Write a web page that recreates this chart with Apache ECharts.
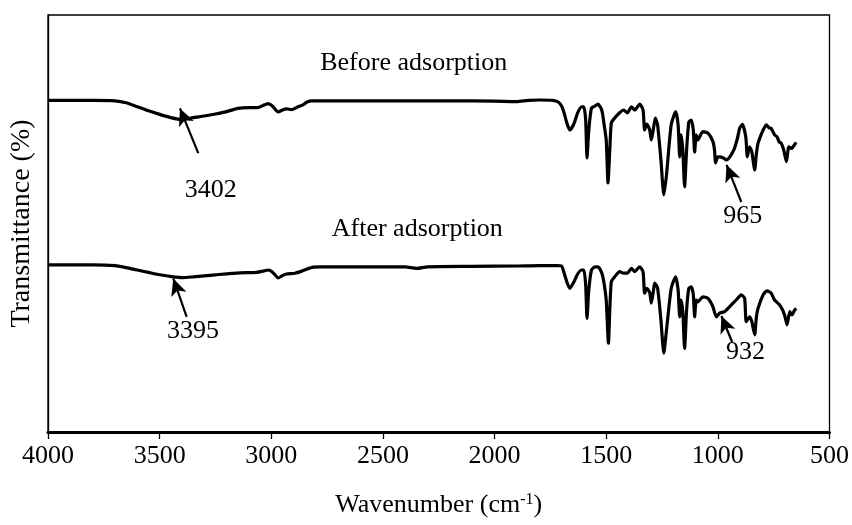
<!DOCTYPE html>
<html>
<head>
<meta charset="utf-8">
<title>FTIR spectra</title>
<script src="https://cdn.jsdelivr.net/npm/echarts@6/dist/echarts.min.js"></script>
<style>
  html, body { margin: 0; padding: 0; background: #fff; }
  #chart { width: 852px; height: 525px; }
</style>
</head>
<body>
<div id="chart"></div>
<script>
// FTIR spectrum before adsorption (wavenumber in cm-1, transmittance in %)
const beforeWn = [4000,3800,3700,3650,3600,3550,3500,3450,3400,3350,3300,3250,3200,3150,3100,3060,3030,3014,2995,2969,2950,2932,2910,2880,2858,2840,2820,2800,2600,2400,2200,2000,1900,1850,1800,1740,1715,1700,1690,1675,1663,1645,1628,1610,1600,1592,1586,1578,1566,1550,1537,1520,1511,1500,1492,1484,1477,1462,1440,1422,1405,1387,1372,1350,1335,1328,1318,1305,1298,1288,1280,1270,1255,1242,1230,1209,1189,1178,1171,1165,1157,1149,1140,1130,1119,1110,1104,1097,1090,1067,1044,1022,1015,1010,1000,992,975,962,950,935,925,912,902,890,875,868,858,848,835,828,820,805,797,783,770,761,746,735,725,716,705,693,682,670,656,649];
const beforeT = [82.9,82.9,82.8,82.3,81.3,80.3,79.4,78.6,78.1,78.6,79.0,79.5,80.1,80.9,81.1,81.1,81.8,82.1,81.5,80.0,80.5,80.8,80.6,81.3,81.8,82.5,82.8,82.8,82.8,82.8,82.8,82.7,82.6,82.9,83.0,82.9,82.5,81.5,80.0,77.0,75.5,77.0,79.8,81.3,81.3,78.0,68.5,75.5,81.0,81.5,82.0,80.5,77.5,73.0,62.3,70.5,77.3,78.5,79.8,80.5,79.8,81.3,80.5,82.0,80.5,75.5,77.0,75.5,73.0,76.0,78.5,76.8,68.0,59.3,64.3,76.8,80.1,76.8,68.8,74.3,70.5,61.3,70.5,77.5,78.0,75.5,70.0,74.3,73.0,75.1,74.7,72.6,70.5,67.3,68.8,68.8,68.5,68.0,68.5,69.8,71.0,73.5,76.0,76.9,73.8,68.8,71.3,70.1,65.5,69.3,72.2,74.5,75.5,76.8,76.0,75.9,74.3,73.8,72.5,72.2,70.5,67.6,71.3,70.9,71.9,72.4];

// FTIR spectrum after adsorption
const afterWn = [4000,3800,3700,3650,3600,3550,3500,3440,3395,3350,3250,3141,3066,3030,3014,2995,2969,2950,2932,2894,2860,2842,2812,2780,2600,2400,2350,2300,2100,1900,1800,1720,1700,1690,1675,1663,1645,1628,1610,1600,1592,1586,1578,1566,1550,1537,1520,1511,1500,1490,1484,1477,1462,1440,1422,1405,1387,1372,1350,1335,1328,1318,1305,1298,1288,1283,1270,1255,1242,1230,1209,1189,1178,1171,1165,1157,1149,1140,1130,1119,1110,1104,1097,1090,1067,1044,1022,1007,992,970,948,918,895,880,873,858,848,835,828,820,797,780,761,746,724,710,700,690,678,668,656,649];
const afterT = [41.8,41.8,41.6,41.1,40.5,39.9,39.3,38.8,38.6,38.8,39.3,39.8,39.9,40.3,40.5,40.0,38.5,39.1,39.5,39.7,40.3,40.7,41.2,41.3,41.3,41.3,40.9,41.3,41.4,41.5,41.6,41.6,41.5,40.0,37.3,35.9,37.5,39.5,40.5,40.5,36.8,28.4,35.5,40.5,41.3,41.3,39.8,37.6,33.0,22.2,30.5,37.6,38.8,40.1,39.7,39.7,40.9,40.1,41.3,40.0,34.7,35.9,34.8,32.2,35.5,37.2,36.0,28.0,19.7,25.5,35.9,38.8,35.5,28.8,33.0,30.0,20.9,30.5,35.9,36.3,34.3,28.8,33.0,32.5,33.8,33.4,31.3,28.8,29.7,30.1,31.3,33.0,34.3,33.4,27.6,28.8,27.6,24.3,28.5,30.9,34.3,35.3,34.7,33.0,31.8,30.5,29.0,26.8,30.1,29.3,30.5,30.9];

// Spectrum captions: text and its [wavenumber, transmittance] anchor
const beforeCaption = { text: 'Before adsorption', at: [2362, 92.3] };
const afterCaption = { text: 'After adsorption', at: [2346, 50.8] };

// Peak annotations: label, label position, arrow tail, arrow head
const beforePeaks = [
  { text: '3402', at: [3271, 60.5], from: [3327, 69.7], to: [3409, 80.9] },
  { text: '965',  at: [889, 54.0],  from: [895, 57.5],  to: [961, 66.8] }
];
const afterPeaks = [
  { text: '3395', at: [3351, 25.3], from: [3379, 28.8], to: [3439, 38.4] },
  { text: '932',  at: [876, 20.0],  from: [936, 22.5],  to: [984, 29.0] }
];

const FONT = '"Liberation Serif", "Times New Roman", serif';

function pairs(xs, ys) {
  return xs.map((x, i) => [x, ys[i]]);
}

function annotations(caption, peaks) {
  const texts = [caption].concat(peaks);
  return {
    markPoint: {
      symbol: 'circle',
      symbolSize: 0,
      silent: true,
      itemStyle: { color: '#000', opacity: 1 },
      label: {
        show: true,
        position: 'inside',
        color: '#000',
        opacity: 1,
        fontFamily: FONT,
        fontSize: 26,
        formatter: p => p.name
      },
      data: texts.map(p => ({ name: p.text, coord: p.at }))
    },
    markLine: {
      silent: true,
      symbol: ['none', 'arrow'],
      symbolSize: [12, 17],
      label: { show: false },
      lineStyle: { color: '#000', width: 2.2, type: 'solid', opacity: 1 },
      data: peaks.map(p => [{ coord: p.from }, { coord: p.to }])
    }
  };
}

const chart = echarts.init(document.getElementById('chart'), null, { renderer: 'canvas' });

chart.setOption({
  animation: false,
  backgroundColor: '#fff',
  grid: {
    left: 48, right: 22, top: 15, bottom: 93,
    show: true,
    borderColor: '#000',
    borderWidth: 1.3,
    backgroundColor: 'transparent'
  },
  xAxis: {
    type: 'value',
    inverse: true,
    min: 500,
    max: 4000,
    interval: 500,
    name: '{t|Wavenumber (cm}{s|-1}{t|)}',
    nameLocation: 'middle',
    nameGap: 60,
    nameTextStyle: {
      rich: {
        t: { fontFamily: FONT, fontSize: 26, color: '#000' },
        s: { fontFamily: FONT, fontSize: 16, color: '#000', verticalAlign: 'top', padding: [0, 0, 10, 0] }
      }
    },
    axisLine: { show: true, onZero: false, lineStyle: { color: '#000', width: 3 } },
    axisTick: { show: true, length: 7, lineStyle: { color: '#000', width: 1.3 } },
    axisLabel: {
      color: '#000', fontFamily: FONT, fontSize: 26, margin: 11,
      formatter: v => String(v)
    },
    splitLine: { show: false }
  },
  yAxis: {
    type: 'value',
    min: 0,
    max: 104.25,
    name: 'Transmittance (%)',
    nameLocation: 'middle',
    nameGap: 12,
    nameTextStyle: { color: '#000', fontFamily: FONT, fontSize: 28 },
    axisLine: { show: true, lineStyle: { color: '#000', width: 1.3 } },
    axisTick: { show: false },
    axisLabel: { show: false },
    splitLine: { show: false }
  },
  series: [
    Object.assign({
      name: 'Before adsorption',
      type: 'line',
      data: pairs(beforeWn, beforeT),
      showSymbol: false,
      smooth: 0.2,
      lineStyle: { color: '#000', width: 3.2 },
      z: 3
    }, annotations(beforeCaption, beforePeaks)),
    Object.assign({
      name: 'After adsorption',
      type: 'line',
      data: pairs(afterWn, afterT),
      showSymbol: false,
      smooth: 0.2,
      lineStyle: { color: '#000', width: 3.2 },
      z: 3
    }, annotations(afterCaption, afterPeaks))
  ]
});
</script>
</body>
</html>
